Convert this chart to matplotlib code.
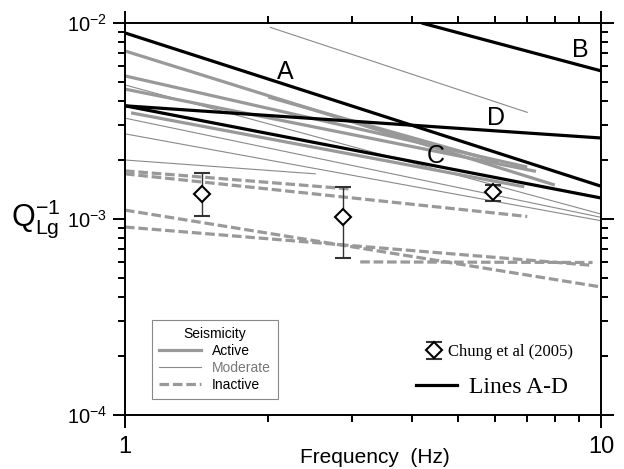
import numpy as np
import matplotlib
matplotlib.use("Agg")
from matplotlib import pyplot as plt
from matplotlib.lines import Line2D
from matplotlib.ticker import LogLocator, NullFormatter

plt.rcParams['font.family'] = ['Liberation Sans', 'DejaVu Sans']
plt.rcParams['mathtext.default'] = 'regular'

# each segment: [f_start, f_end], [Q^-1 at f_start, Q^-1 at f_end]
lines_AD_names = ['A', 'B', 'C', 'D']
lines_AD_f = [[1.0, 10.0], [4.2, 10.0], [1.0, 10.0], [1.0, 10.0]]
lines_AD_q = [[8.9e-3, 1.47e-3], [1.0e-2, 5.7e-3], [3.78e-3, 1.28e-3], [3.78e-3, 2.59e-3]]

active_f = [[1.0, 8.0], [1.0, 7.0], [2.0, 6.1], [1.03, 6.9], [1.0, 7.3]]
active_q = [[7.2e-3, 1.49e-3], [5.37e-3, 1.84e-3], [4.19e-3, 1.95e-3],
            [3.48e-3, 1.46e-3], [4.6e-3, 1.75e-3]]

moderate_f = [[2.02, 7.0], [1.0, 10.0], [1.0, 10.0], [1.0, 10.0], [1.0, 2.51]]
moderate_q = [[9.5e-3, 3.5e-3], [4.83e-3, 1.06e-3], [3.27e-3, 1.02e-3],
              [2.72e-3, 9.8e-4], [2.0e-3, 1.70e-3]]

inactive_f = [[1.0, 3.0], [1.0, 7.0], [1.0, 10.0], [1.0, 9.6], [3.12, 9.6]]
inactive_q = [[1.76e-3, 1.42e-3], [1.70e-3, 1.03e-3], [1.11e-3, 4.5e-4],
              [9.1e-4, 5.8e-4], [6.04e-4, 6.0e-4]]

chung_f = [1.45, 2.87, 5.93]
chung_q = [1.34e-3, 1.02e-3, 1.37e-3]
chung_hi = [1.72e-3, 1.46e-3, 1.49e-3]
chung_lo = [1.03e-3, 6.3e-4, 1.24e-3]

# where the A-D tags sit
tag_f = [2.17, 9.03, 4.5, 6.02]
tag_q = [5.6e-3, 7.3e-3, 2.09e-3, 3.27e-3]

gray = '#999999'
thin_gray = '#8a8a8a'

fig = plt.figure(figsize=(6.24, 4.69), dpi=100)
ax = fig.add_axes([125/624, 1-415/469, 476/624, 392/469])
ax.set_xscale('log')
ax.set_yscale('log')
ax.set_xlim(1, 10)
ax.set_ylim(1e-4, 1e-2)

for f, q in zip(inactive_f, inactive_q):
    ax.plot(f, q, color=gray, lw=2.3, dashes=(3, 1.2), solid_capstyle='butt')
for f, q in zip(moderate_f, moderate_q):
    ax.plot(f, q, color=thin_gray, lw=0.8)
for f, q in zip(active_f, active_q):
    ax.plot(f, q, color=gray, lw=2.3, solid_capstyle='butt')
for f, q in zip(lines_AD_f, lines_AD_q):
    ax.plot(f, q, color='black', lw=2.3, solid_capstyle='butt')

for name, f, q in zip(lines_AD_names, tag_f, tag_q):
    ax.text(f, q, name, fontsize=18, ha='center', va='center')

q = np.array(chung_q)
yerr = [q - np.array(chung_lo), np.array(chung_hi) - q]
chung = ax.errorbar(chung_f, chung_q, yerr=yerr, fmt='D', ms=8, mfc='white',
                    mec='black', mew=1.5, ecolor='#333333', elinewidth=1,
                    capsize=6, capthick=1, zorder=5)

# axis styling
for s in ax.spines.values():
    s.set_linewidth(1.4)
ax.tick_params(which='both', direction='out', top=True, right=True, width=1.4)
ax.tick_params(which='major', length=9)
ax.tick_params(which='minor', length=5)
ax.set_xticks([1, 10], labels=['1', '10'])
ax.xaxis.set_minor_locator(LogLocator(subs=np.arange(2, 10)))
ax.xaxis.set_minor_formatter(NullFormatter())
ax.yaxis.set_minor_locator(LogLocator(subs=np.arange(2, 10)))
ax.yaxis.set_minor_formatter(NullFormatter())
ax.tick_params(axis='x', labelsize=17, pad=6)
ax.tick_params(axis='y', labelsize=14.5, pad=4)

ax.set_xlabel('Frequency  (Hz)', fontsize=15)
ax.xaxis.set_label_coords(0.525, -0.085)
fig.text(36/624, 1-219/469, r'$Q_{Lg}^{-1}$', fontsize=22, ha='center', va='center')

# seismicity key
h_active = Line2D([], [], color=gray, lw=2.3)
h_mod = Line2D([], [], color=thin_gray, lw=0.8)
h_inact = Line2D([], [], color=gray, lw=2.3, dashes=(3, 1.2))
leg1 = ax.legend([h_active, h_mod, h_inact], ['Active', 'Moderate', 'Inactive'],
                 title='Seismicity', title_fontsize=10, fontsize=10,
                 loc='upper left', bbox_to_anchor=(152/624, 1-320/469),
                 bbox_transform=fig.transFigure, borderaxespad=0, borderpad=0.5,
                 handlelength=3.0, handletextpad=0.8, labelspacing=0.22,
                 fancybox=False, framealpha=1, edgecolor='#888888')
leg1.get_frame().set_linewidth(0.8)
leg1.get_texts()[1].set_color('#777777')
ax.add_artist(leg1)

leg2 = ax.legend([chung], ['Chung et al (2005)'], loc='center left',
                 bbox_to_anchor=(426/624, 1-352/469), bbox_transform=fig.transFigure,
                 borderaxespad=0, borderpad=0, frameon=False, handlelength=1.0,
                 handletextpad=0.3, prop={'family': 'Liberation Serif', 'size': 12})
ax.add_artist(leg2)

h_lines = Line2D([], [], color='black', lw=2.3)
ax.legend([h_lines], ['Lines A-D'], loc='center left',
          bbox_to_anchor=(416/624, 1-387/469), bbox_transform=fig.transFigure,
          borderaxespad=0, borderpad=0, frameon=False, handlelength=1.75,
          handletextpad=0.5, prop={'family': 'Liberation Serif', 'size': 17})

fig.savefig('out.png', dpi=100)
